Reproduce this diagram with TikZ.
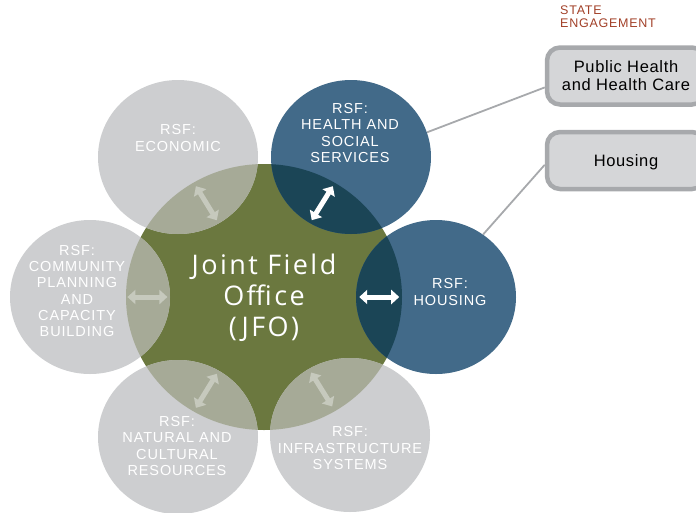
\documentclass[tikz,border=0pt]{standalone}
\usepackage{fontspec}
\setmainfont{Liberation Sans}
\newfontfamily\rsffont[LetterSpace=6]{Liberation Sans}
\newfontfamily\boxfont[LetterSpace=4]{Liberation Sans}
\newfontfamily\jfofont[LetterSpace=9]{Open Sans}
\newfontfamily\statefont[LetterSpace=6]{Liberation Sans}
\usetikzlibrary{calc, shapes.geometric, arrows.meta}

\definecolor{rsfgrey}{HTML}{CDCED0}
\definecolor{jfogreen}{HTML}{6B783F}
\definecolor{rsfblue}{HTML}{426A89}
\definecolor{lensgrey}{HTML}{A6AA97}
\definecolor{lensblue}{HTML}{1B4556}
\definecolor{arrgrey}{HTML}{C6C9BD}
\definecolor{boxfill}{HTML}{D5D6D8}
\definecolor{boxline}{HTML}{A7A9AC}
\definecolor{statered}{HTML}{A13F27}

\tikzset{
  rsf/.style={ellipse, inner sep=0pt, minimum width=160pt, minimum height=154pt},
  rsftext/.style={text=white, align=center, font=\rsffont\fontsize{14.5}{16.3}\selectfont},
  lensarr/.style={line width=5pt, {Triangle[width=14pt,length=8pt]}-{Triangle[width=14pt,length=8pt]}},
  engbox/.style={draw=boxline, fill=boxfill, line width=4.5pt, rounded corners=13pt,
    minimum width=158pt, minimum height=57pt, align=center, font=\boxfont\fontsize{16.5}{18}\selectfont},
  link/.style={draw=boxline, line width=1.8pt}
}

\begin{document}
\begin{tikzpicture}[x=1pt, y=-1pt]
\useasboundingbox (0,0) rectangle (696,512);
\node[ellipse, inner sep=0pt, minimum width=276pt, minimum height=266pt, fill=jfogreen] (jfo) at (264,297) {};
\node[rsf, fill=rsfgrey] (econ) at (178,157) {};
\node[rsf, fill=rsfblue] (health) at (351,157) {};
\node[rsf, fill=rsfblue] (housing) at (436,297) {};
\node[rsf, fill=rsfgrey] (comm) at (90,297) {};
\node[rsf, fill=rsfgrey] (natural) at (178,437) {};
\node[rsf, fill=rsfgrey] (infra) at (350,435) {};

% overlaps with the JFO
\begin{scope}
  \clip (jfo.center) ellipse [x radius=138pt, y radius=133pt];
  \foreach \s/\c in {econ/lensgrey, health/lensblue, housing/lensblue, comm/lensgrey, natural/lensgrey, infra/lensgrey}
    \fill[\c] (\s.center) ellipse [x radius=80pt, y radius=77pt];
\end{scope}

\foreach \s/\c in {econ/arrgrey, health/white, housing/white, comm/arrgrey, natural/arrgrey, infra/arrgrey}{
  \coordinate (m) at ($(\s)!0.33!(jfo)$);
  \draw[lensarr, \c] ($(m)!20pt!(\s)$) -- ($(m)!20pt!(jfo)$);
}

\node[text=white, align=center, font=\jfofont\fontsize{27}{31}\selectfont] (jfo-t) at (264,298) {Joint Field\\Office\\(JFO)};
\node[rsftext] (econ-t) at (178,138) {RSF:\\ECONOMIC};
\node[rsftext] (health-t) at (350,133) {RSF:\\HEALTH AND\\SOCIAL\\SERVICES};
\node[rsftext] (housing-t) at (450,292) {RSF:\\HOUSING};
\node[rsftext] (comm-t) at (77,291) {RSF:\\COMMUNITY\\PLANNING\\AND\\CAPACITY\\BUILDING};
\node[rsftext] (natural-t) at (177,446) {RSF:\\NATURAL AND\\CULTURAL\\RESOURCES};
\node[rsftext] (infra-t) at (350,448) {RSF:\\INFRASTRUCTURE\\SYSTEMS};

% state engagement
\node[anchor=north west, inner sep=0pt, text=statered, align=left,
  font=\statefont\fontsize{12.5}{13}\selectfont] (state) at (560,6) {STATE\\ENGAGEMENT};
\node[engbox] (phc) at (626,76) {Public Health\\and Health Care};
\node[engbox, text depth=0pt] (hbox) at (626,160.5) {Housing};
\draw[link] (health.18) -- (phc.188);
\draw[link] (housing.53) -- (hbox.183);
\end{tikzpicture}
\end{document}
